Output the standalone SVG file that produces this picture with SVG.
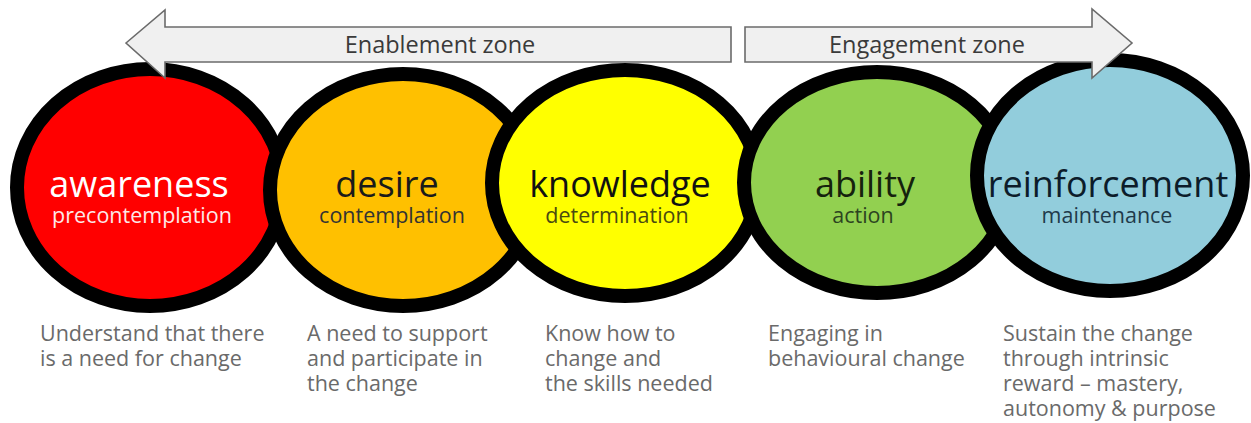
<svg xmlns="http://www.w3.org/2000/svg" width="1251" height="423" viewBox="0 0 1251 423">
<style>
.ring{stroke:#000;stroke-width:14}
.t1{font-family:"Open Sans","Noto Sans",sans-serif;font-size:36px;text-anchor:middle}
.t2{font-family:"Open Sans","Noto Sans",sans-serif;font-size:21.5px;text-anchor:middle}
.zone{fill:#f0f0f0;stroke:#6b6b6b;stroke-width:1.6;stroke-linejoin:miter}
.zt{font-family:"Open Sans","Noto Sans",sans-serif;font-size:23.5px;fill:#3a3a3a;text-anchor:middle}
.desc{font-family:"Open Sans","Noto Sans",sans-serif;font-size:21.5px;fill:#6a6a6a}
</style>
<rect width="1251" height="423" fill="#fff"/>
<g id="awareness">
<ellipse class="ring" cx="150" cy="187.5" rx="133" ry="118.5" fill="#ff0000"/>
<text class="t1" x="139" y="197" fill="#fff">awareness</text>
<text class="t2" x="142" y="223" fill="#fde8e8">precontemplation</text>
</g>
<g id="desire">
<ellipse class="ring" cx="403" cy="190" rx="133" ry="116" fill="#ffc000"/>
<text class="t1" x="387" y="197" fill="#1a1a1a">desire</text>
<text class="t2" x="392" y="223" fill="#333">contemplation</text>
</g>
<g id="knowledge">
<ellipse class="ring" cx="625" cy="183" rx="133" ry="113" fill="#ffff00"/>
<text class="t1" x="620" y="197" fill="#111">knowledge</text>
<text class="t2" x="617" y="223" fill="#4a4a10">determination</text>
</g>
<g id="ability">
<ellipse class="ring" cx="877" cy="182.5" rx="133" ry="110.5" fill="#92d050"/>
<text class="t1" x="865" y="197" fill="#15220d">ability</text>
<text class="t2" x="863" y="223" fill="#2c4320">action</text>
</g>
<g id="reinforcement">
<ellipse class="ring" cx="1110" cy="175.5" rx="133" ry="115.5" fill="#92cddc"/>
<text class="t1" x="1108" y="197" fill="#0c1c2a">reinforcement</text>
<text class="t2" x="1107" y="223" fill="#1f3a4a">maintenance</text>
</g>
<g id="enablement-zone">
<polygon class="zone" points="126,43 165,10 165,27 731,27 731,62 165,62 165,78"/>
<text class="zt" x="440" y="53">Enablement zone</text>
</g>
<g id="engagement-zone">
<polygon class="zone" points="745,27 1092,27 1092,9 1132,43 1092,78 1092,62 745,62"/>
<text class="zt" x="927" y="53">Engagement zone</text>
</g>
<g id="descriptions">
<text class="desc" x="40" y="341">Understand that there<tspan x="40" y="366">is a need for change</tspan></text>
<text class="desc" x="307" y="341">A need to support<tspan x="307" y="366">and participate in</tspan><tspan x="307" y="391">the change</tspan></text>
<text class="desc" x="545" y="341">Know how to<tspan x="545" y="366">change and</tspan><tspan x="545" y="391">the skills needed</tspan></text>
<text class="desc" x="768" y="341">Engaging in<tspan x="768" y="366">behavioural change</tspan></text>
<text class="desc" x="1003" y="341">Sustain the change<tspan x="1003" y="366">through intrinsic</tspan><tspan x="1003" y="391">reward – mastery,</tspan><tspan x="1003" y="416">autonomy &amp; purpose</tspan></text>
</g>
</svg>
